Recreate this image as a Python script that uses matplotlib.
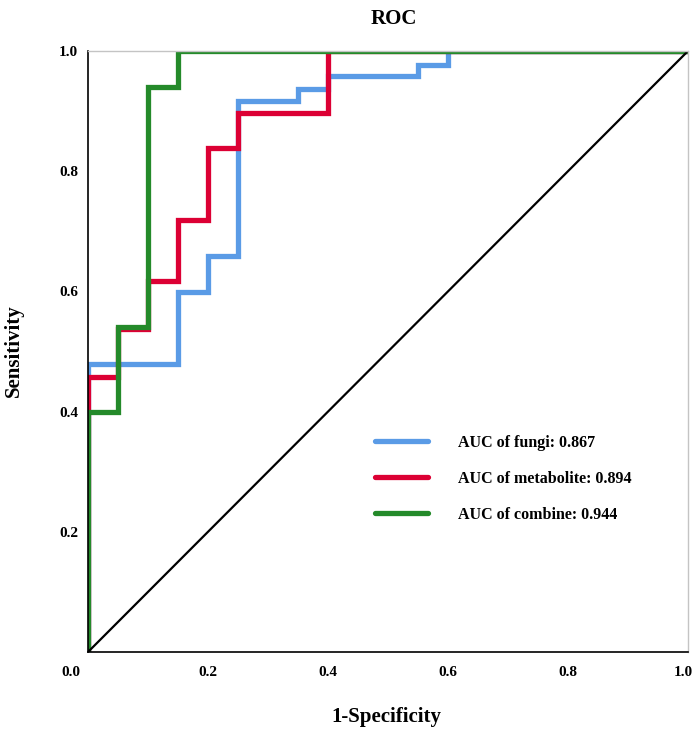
import numpy as np
import matplotlib.pyplot as plt
import matplotlib.transforms as mtransforms

plt.rcParams['font.family'] = ['Liberation Serif', 'DejaVu Serif']
plt.rcParams['font.weight'] = 'bold'

# step points of the ROC curves (1-specificity, sensitivity)
fungi_fpr = [0.0, 0.0, 0.15, 0.15, 0.20, 0.20, 0.25, 0.25, 0.35, 0.35, 0.40, 0.40, 0.55, 0.55, 0.60, 0.60, 1.0]
fungi_tpr = [0.0, 0.479, 0.479, 0.599, 0.599, 0.659, 0.659, 0.917, 0.917, 0.937, 0.937, 0.958, 0.958, 0.977, 0.977, 1.0, 1.0]

metab_fpr = [0.0, 0.0, 0.05, 0.05, 0.10, 0.10, 0.15, 0.15, 0.20, 0.20, 0.25, 0.25, 0.40, 0.40, 1.0]
metab_tpr = [0.0, 0.458, 0.458, 0.537, 0.537, 0.617, 0.617, 0.719, 0.719, 0.839, 0.839, 0.897, 0.897, 1.0, 1.0]

comb_fpr = [0.0, 0.0, 0.05, 0.05, 0.10, 0.10, 0.15, 0.15, 1.0]
comb_tpr = [0.0, 0.40, 0.40, 0.54, 0.54, 0.94, 0.94, 1.0, 1.0]

labels = ['AUC of fungi: 0.867', 'AUC of metabolite: 0.894', 'AUC of combine: 0.944']
colors = ['#5a9be6', '#dc0034', '#248a2a']

xticks = [0.0, 0.2, 0.4, 0.6, 0.8, 1.0]
yticks = [0.2, 0.4, 0.6, 0.8, 1.0]

fig = plt.figure(figsize=(6.96, 7.36), dpi=100)
ax = fig.add_axes([88/696, 1 - 652/736, 600/696, 601/736])

curves = [(fungi_fpr, fungi_tpr), (metab_fpr, metab_tpr), (comb_fpr, comb_tpr)]
for (x, y), lab, c in zip(curves, labels, colors):
    ax.plot(x, y, color=c, lw=3.8, label=lab, solid_joinstyle='miter', solid_capstyle='round')

ax.plot([0, 1], [0, 1], color='black', lw=1.6)

ax.set_xlim(0, 1)
ax.set_ylim(0, 1)
ax.set_xticks(xticks)
ax.set_xticklabels([f'{v:.1f}' for v in xticks])
ax.set_yticks(yticks)
ax.set_yticklabels([f'{v:.1f}' for v in yticks])
ax.tick_params(length=0, labelsize=11)
ax.tick_params(axis='x', pad=10)
ax.tick_params(axis='y', pad=7)

# shift the end labels so they stay inside the picture
xl = ax.get_xticklabels()
for lbl, dx in [(xl[0], -17), (xl[-1], -5)]:
    lbl.set_transform(lbl.get_transform() + mtransforms.ScaledTranslation(dx/100, 0, fig.dpi_scale_trans))

for s in ['left', 'bottom']:
    ax.spines[s].set_color('black')
    ax.spines[s].set_linewidth(1.2)
for s in ['top', 'right']:
    ax.spines[s].set_color('#c4c4c4')
    ax.spines[s].set_linewidth(1.0)

fig.text(394/696, 1 - 19/736, 'ROC', ha='center', va='center', fontsize=15, fontweight='bold')
fig.text(386/696, 1 - 717/736, '1-Specificity', ha='center', va='center', fontsize=15, fontweight='bold')
fig.text(14/696, 1 - 351/736, 'Sensitivity', ha='center', va='center', rotation=90, fontsize=15, fontweight='bold')

leg = ax.legend(loc='upper left', bbox_to_anchor=(375/696, 1 - 435/736), bbox_transform=fig.transFigure,
                frameon=False, fontsize=11.5, handlelength=3.3, handletextpad=1.9,
                labelspacing=1.25, borderpad=0, borderaxespad=0)

plt.savefig('out.png', dpi=100)
